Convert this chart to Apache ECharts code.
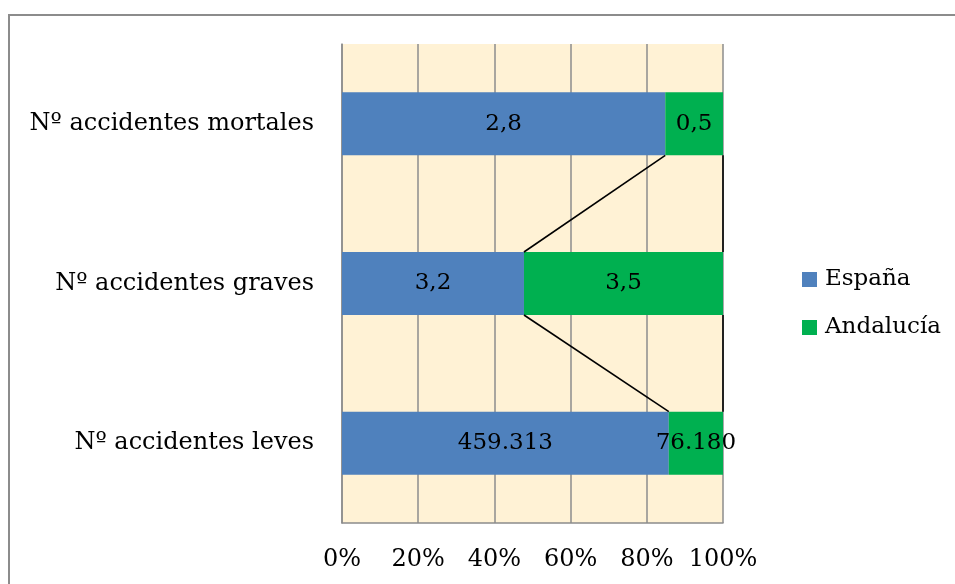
<!DOCTYPE html>
<html>
<head>
<meta charset="utf-8">
<script src="https://cdn.jsdelivr.net/npm/echarts@6/dist/echarts.min.js"></script>
<style>html,body{margin:0;padding:0;background:#fff;}#c{width:955px;height:584px;}</style>
</head>
<body>
<div id="c"></div>
<script>
var categories = ['Nº accidentes leves', 'Nº accidentes graves', 'Nº accidentes mortales'];
var espana = [459313, 3.2, 2.8];
var andalucia = [76180, 3.5, 0.5];
var espanaLabels = ['459.313', '3,2', '2,8'];
var andaluciaLabels = ['76.180', '3,5', '0,5'];
var xTicks = [0, 20, 40, 60, 80, 100];

var FONT = 'DejaVu Serif';
var BAR_RATIO = 0.395;

var espPct = espana.map(function (v, i) { return v / (v + andalucia[i]) * 100; });
var andPct = andalucia.map(function (v, i) { return v / (espana[i] + v) * 100; });

var chart = echarts.init(document.getElementById('c'));
chart.setOption({
  animation: false,
  backgroundColor: '#fff',
  graphic: [{
    type: 'rect', silent: true,
    shape: { x: 9, y: 15, width: 980, height: 600 },
    style: { fill: 'none', stroke: '#8c8c8c', lineWidth: 2 }
  }],
  legend: {
    orient: 'vertical',
    left: 797, top: 263,
    itemWidth: 15, itemHeight: 15, itemGap: 25,
    icon: 'rect',
    textStyle: { fontFamily: FONT, fontSize: 23, color: '#000', padding: [0, 0, 0, 3] },
    data: ['España', 'Andalucía']
  },
  grid: {
    left: 342, right: 232, top: 44, bottom: 61,
    show: true, backgroundColor: '#FFF2D5', borderWidth: 0,
    containLabel: false
  },
  xAxis: {
    type: 'value', min: 0, max: 100, interval: 20,
    axisLine: { show: true, lineStyle: { color: '#8c8c8c', width: 1.5 } },
    axisTick: { show: false },
    splitLine: { show: true, lineStyle: { color: '#8c8c8c', width: 1.5 } },
    axisLabel: {
      margin: 25,
      fontFamily: FONT, fontSize: 24, color: '#000',
      formatter: function (v) { return xTicks.indexOf(v) >= 0 ? v + '%' : ''; }
    }
  },
  yAxis: {
    type: 'category', data: categories,
    axisLine: { show: true, lineStyle: { color: '#8c8c8c', width: 1.5 } },
    axisTick: { show: false },
    axisLabel: { margin: 28, fontFamily: FONT, fontSize: 24, color: '#000' }
  },
  series: [{
    name: 'España', type: 'bar', stack: 'total',
    barWidth: (BAR_RATIO * 100) + '%',
    itemStyle: { color: '#4F81BD' },
    label: {
      show: true, position: 'inside', fontFamily: FONT, fontSize: 23, color: '#000',
      formatter: function (p) { return espanaLabels[p.dataIndex]; }
    },
    data: espPct
  }, {
    name: 'Andalucía', type: 'bar', stack: 'total',
    barWidth: (BAR_RATIO * 100) + '%',
    itemStyle: { color: '#00B050' },
    label: {
      show: true, position: 'inside', fontFamily: FONT, fontSize: 23, color: '#000',
      formatter: function (p) { return andaluciaLabels[p.dataIndex]; }
    },
    data: andPct
  }, {
    name: 'seriesLines', type: 'custom', silent: true, z: 5,
    data: [[0], [1]],
    renderItem: function (params, api) {
      var i = params.dataIndex;
      var h = api.size([0, 1])[1] * BAR_RATIO / 2;
      var a = api.coord([espPct[i], i]);
      var b = api.coord([espPct[i + 1], i + 1]);
      var c = api.coord([100, i]);
      var d = api.coord([100, i + 1]);
      var st = { stroke: '#000', lineWidth: 1.6 };
      return {
        type: 'group',
        children: [
          { type: 'line', shape: { x1: a[0], y1: a[1] - h, x2: b[0], y2: b[1] + h }, style: st },
          { type: 'line', shape: { x1: c[0], y1: c[1] - h, x2: d[0], y2: d[1] + h }, style: st }
        ]
      };
    }
  }]
});
</script>
</body>
</html>
